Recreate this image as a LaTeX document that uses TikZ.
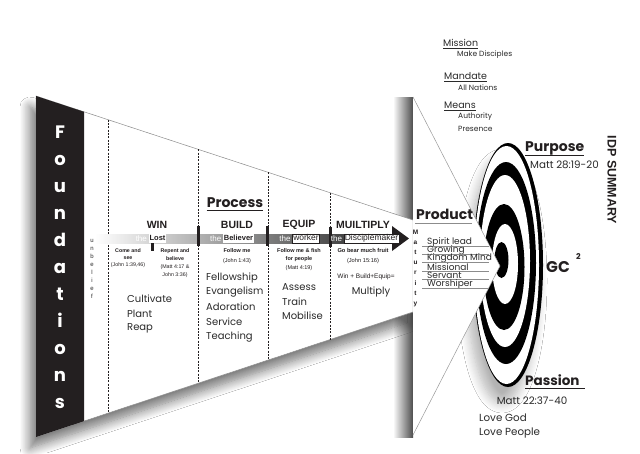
\documentclass[tikz,border=0pt]{standalone}
\usepackage{fontspec}
\setmainfont{Poppins}
\newfontfamily\arialf{Liberation Sans}
\usetikzlibrary{shadows.blur,positioning}
\definecolor{ink}{HTML}{231F20}
\definecolor{txt}{HTML}{2A2A2A}
\begin{document}
\begin{tikzpicture}[x=1pt,y=-1pt,
  found/.style={font=\fontsize{18}{18}\selectfont\bfseries, text=white, inner sep=0pt, text height=13pt, text depth=0pt},
  ub/.style={font=\arialf\fontsize{6}{6}\selectfont, text=txt, inner sep=0pt, text height=4.5pt, text depth=0pt},
  mat/.style={font=\arialf\bfseries\fontsize{6.5}{6.5}\selectfont, text=ink, inner sep=0pt, text height=5pt, text depth=0pt},
  head/.style={font=\arialf\bfseries\fontsize{10.5}{10.5}\selectfont, text=ink, inner sep=0pt},
  big/.style={font=\bfseries\fontsize{14}{14}\selectfont, text=ink, inner sep=0pt},
  lst/.style={font=\fontsize{10}{10}\selectfont, text=txt, inner sep=0pt, anchor=west},
  tiny/.style={font=\arialf\fontsize{5.3}{7.2}\selectfont, text=ink, inner sep=0pt, align=center, anchor=north},
  thelbl/.style={font=\arialf\fontsize{8}{8}\selectfont, text=white, inner sep=0pt},
  bandbox/.style={font=\arialf\bfseries\fontsize{7.5}{7.5}\selectfont, text=ink, fill=white, inner sep=0.8pt, text height=6pt, text depth=1.5pt},
  bandboxo/.style={font=\arialf\fontsize{8.5}{8.5}\selectfont, text=ink, fill=white, draw=ink, line width=0.4pt, inner sep=0.8pt, text height=6pt, text depth=1.5pt},
  rt/.style={font=\fontsize{9.5}{9.5}\selectfont, text=txt, inner sep=0pt, anchor=west},
  rts/.style={font=\fontsize{7.5}{7.5}\selectfont, text=txt, inner sep=0pt, anchor=west},
  prod/.style={font=\fontsize{9}{9}\selectfont, text=txt, inner sep=0pt, anchor=west},
  ref/.style={font=\fontsize{10.3}{10.3}\selectfont, text=txt, inner sep=0pt},
  dashln/.style={draw=ink, line width=0.6pt, dash pattern=on 2pt off 1.3pt},
  bar/.style={fill=ink}
]
\useasboundingbox (0,0) rectangle (640,453);
\fill[white] (0,0) rectangle (640,453);

% shadow band left of the wedge
\shade[left color=white, right color=black!70] (393,97) rectangle (413,437);

% target with shadow
\fill[black, blur shadow={shadow xshift=-6pt, shadow yshift=-16pt, shadow blur radius=10pt, shadow blur steps=10, shadow opacity=30}] (508,265) ellipse [x radius=35pt, y radius=122pt];
\fill[white] (506.5,265) ellipse [x radius=32.5pt, y radius=119pt];
\fill[black] (506,263) ellipse [x radius=30pt, y radius=101pt];
\fill[white] (505,261) ellipse [x radius=25pt, y radius=86pt];
\fill[black] (504,267) ellipse [x radius=20.5pt, y radius=63pt];
\fill[white] (505,264) ellipse [x radius=13pt, y radius=40pt];
\fill[black] (501.5,260) ellipse [x radius=7pt, y radius=18pt];

% funnel
\path[fill=white, draw=black!45, line width=0.5pt, blur shadow={shadow xshift=-6pt, shadow yshift=-11pt, shadow blur radius=10pt, shadow blur steps=12, shadow opacity=55}]
  (36,96) -- (413,220) -- (413,312) -- (36,437) -- cycle;
\fill[ink] (36,96) -- (84,111.8) -- (84,421.1) -- (36,437) -- cycle;

% wedge
\fill[white] (413,97) -- (500,266) -- (413,435) -- cycle;
\draw[black!40, line width=0.5pt] (413,97) -- (500,266) -- (413,435);

% dashed separators
\draw[dashln] (108,119.7) -- (108,413.1);
\draw[dashln] (198,149.3) -- (198,383.3);
\draw[dashln] (268,172.3) -- (268,360.1);
\draw[dashln] (330,192.7) -- (330,339.5);

% arrow band
\shade[left color=white, right color=black!88] (95,234) rectangle (393,243);
\fill[ink] (392,226) -- (409,238.5) -- (392,251) -- cycle;
\fill[bar] (196.5,226) rectangle (199.5,246);
\fill[bar] (265.5,226) rectangle (268.5,246);
\fill[bar] (328.5,227) rectangle (331.5,247);
\fill[bar] (151,243) rectangle (153.5,251);

% Foundations
\foreach \l [count=\i from 0] in {F,o,u,n,d,a,t,i,o,n,s}
  \node[found] (f\i) at (60,132+27*\i) {\l};
% unbelief
\foreach \l [count=\i from 0] in {u,n,b,e,l,i,e,f}
  \node[ub] (u\i) at (92,240+8.1*\i) {\l};
% Maturity
\foreach \l [count=\i from 0] in {M,a,t,u,r,i,t,y}
  \node[mat] (m\i) at (415.5,232+10.1*\i) {\l};

% headings
\node[big] (process) at (235,203) {Process};
\draw[ink, line width=0.7pt] ([yshift=-2.5pt]process.base west) -- ([yshift=-2.5pt]process.base east);
\node[head] (win) at (157,225) {WIN};
\node[head] (build) at (237,225) {BUILD};
\node[head] (equip) at (299,225) {EQUIP};
\node[head] (mult) at (363,225) {MUILTIPLY};

% band labels
\node[bandbox] (lost) at (157.5,238.5) {Lost};
\node[thelbl, left=1.5pt of lost] (the1) {the};
\node[bandbox] (believer) at (238.5,238.5) {Believer};
\node[thelbl, left=1.5pt of believer] (the2) {the};
\node[bandboxo] (worker) at (306,238.5) {worker};
\node[thelbl, left=1.5pt of worker] (the3) {the};
\node[bandboxo] (discm) at (371.5,238.5) {Disciplemaker};
\node[thelbl, left=1.5pt of discm] (the4) {the};

% texts under band
\node[tiny] (come) at (128,248) {\textbf{Come and}\\\textbf{see}\\(John 1:39,46)};
\node[tiny, font=\arialf\fontsize{5.3}{8}\selectfont] (repent) at (175,248) {\textbf{Repent and}\\\textbf{believe}\\(Matt 4:17 \&\\John 3:36)};
\node[tiny, font=\arialf\fontsize{5.5}{10}\selectfont] (follow) at (237,248) {\textbf{Follow me}\\(John 1:43)};
\node[tiny, font=\arialf\fontsize{5.5}{8.5}\selectfont] (fish) at (299,248) {\textbf{Follow me \& fish}\\\textbf{for people}\\(Matt 4:19)};
\node[tiny, font=\arialf\fontsize{5.7}{10}\selectfont] (fruit) at (363,248) {\textbf{Go bear much fruit}\\(John 15:16)};
\node[font=\arialf\fontsize{6.5}{6.5}\selectfont, text=ink, inner sep=0pt] (wbe) at (366,277) {Win + Build+Equip=};
\node[font=\fontsize{10}{10}\selectfont, text=txt, inner sep=0pt] (multiply) at (371,292) {Multiply};

% lists
\node[lst] (cult) at (127,299) {Cultivate};
\node[lst] (plant) at (127,313.5) {Plant};
\node[lst] (reap) at (127,328) {Reap};
\node[lst] (fell) at (206,278) {Fellowship};
\node[lst] (evan) at (206,292.5) {Evangelism};
\node[lst] (ador) at (206,307) {Adoration};
\node[lst] (serv) at (206,322) {Service};
\node[lst] (teach) at (206,337) {Teaching};
\node[lst] (assess) at (282,287) {Assess};
\node[lst] (train) at (282,301.5) {Train};
\node[lst] (mob) at (282,316) {Mobilise};

% product
\node[big, anchor=west] (product) at (416,214) {Product};
\draw[black!45, line width=0.5pt] (415,223) -- (472,223);
\foreach \t/\yy [count=\i] in {Spirit lead/242, Growing/250.5, Kingdom Mind/258.5, Missional/267, Servant/275.5, Worshiper/284}{
  \node[prod] (p\i) at (427,\yy) {\t};
  \draw[black!45, line width=0.5pt] (422,\yy+4) -- (489,\yy+4);
}

% right column
\node[rt] (mission) at (443,43) {Mission};
\draw[txt, line width=0.5pt] ([yshift=-1.8pt]mission.base west) -- ([yshift=-1.8pt]mission.base east);
\node[rts] (mdisc) at (457,55) {Make Disciples};
\node[rt] (mandate) at (444,76) {Mandate};
\draw[txt, line width=0.5pt] ([yshift=-1.8pt]mandate.base west) -- ([yshift=-1.8pt]mandate.base east);
\node[rts] (alln) at (458,88) {All Nations};
\node[rt] (means) at (444,105) {Means};
\draw[txt, line width=0.5pt] ([yshift=-1.8pt]means.base west) -- ([yshift=-1.8pt]means.base east);
\node[rts] (auth) at (458,117) {Authority};
\node[rts] (pres) at (458,129) {Presence};

\node[big, anchor=west] (purpose) at (525,148) {Purpose};
\draw[ink, line width=0.7pt] ([yshift=-4.5pt]purpose.base west) -- ([yshift=-4.5pt]purpose.base east);
\node[ref, anchor=west] (m28) at (530,165) {Matt 28:19-20};
\node[font=\arialf\bfseries\fontsize{12.5}{12.5}\selectfont, text=ink, inner sep=0pt, rotate=-90] (idp) at (612,180) {IDP SUMMARY};
\node[font=\fontsize{15.5}{15.5}\selectfont\bfseries, text=ink, inner sep=0pt, anchor=west] (gc) at (546,267) {GC};
\node[font=\fontsize{8}{8}\selectfont\bfseries, text=ink, inner sep=0pt, anchor=west] (gc2) at (576,257) {2};

\node[big, font=\bfseries\fontsize{13.5}{13.5}\selectfont, anchor=west] (passion) at (525,380) {Passion};
\draw[ink, line width=0.7pt] ([yshift=-2.5pt]passion.base west) -- ([yshift=-2.5pt,xshift=5pt]passion.base east);
\node[ref] (m22) at (532,401) {Matt 22:37-40};
\node[ref, anchor=west] (lgod) at (479,418) {Love God};
\node[ref, anchor=west] (lpeople) at (479,433) {Love People};
\end{tikzpicture}
\end{document}
